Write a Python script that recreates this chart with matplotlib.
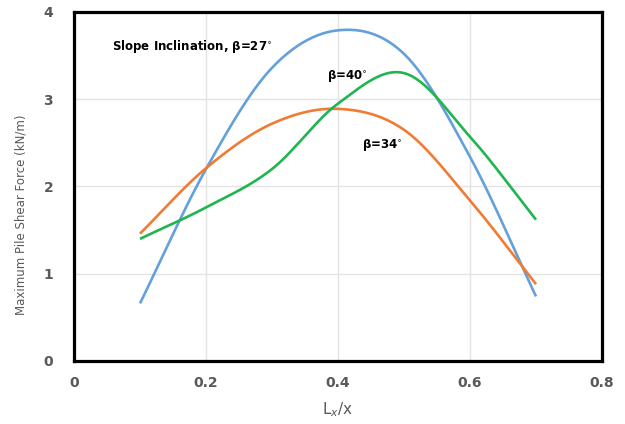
import numpy as np
import matplotlib
matplotlib.use('Agg')
import matplotlib.pyplot as plt

# pile location ratio and maximum shear force for each slope angle
lx_ratio = [0.1, 0.2, 0.3, 0.4, 0.5, 0.6, 0.7]
shear_27 = [0.66, 2.20, 3.36, 3.79, 3.52, 2.34, 0.74]
shear_34 = [1.46, 2.21, 2.72, 2.89, 2.65, 1.84, 0.88]
shear_40 = [1.40, 1.76, 2.20, 2.95, 3.30, 2.57, 1.62]


def smooth(x, y, n=40):
    # Catmull-Rom spline through the points, similar to a smoothed line in a spreadsheet
    x = np.asarray(x, float)
    y = np.asarray(y, float)
    xs, ys = [], []
    for i in range(len(x) - 1):
        x0, x1 = x[i], x[i + 1]
        y0, y1 = y[i], y[i + 1]
        m0 = (y[i + 1] - y[i - 1]) / (x[i + 1] - x[i - 1]) if i > 0 else (y1 - y0) / (x1 - x0)
        m1 = (y[i + 2] - y[i]) / (x[i + 2] - x[i]) if i + 2 < len(x) else (y1 - y0) / (x1 - x0)
        t = np.linspace(0, 1, n)
        h = x1 - x0
        h00 = 2 * t**3 - 3 * t**2 + 1
        h10 = t**3 - 2 * t**2 + t
        h01 = -2 * t**3 + 3 * t**2
        h11 = t**3 - t**2
        xs.append(x0 + t * h)
        ys.append(h00 * y0 + h10 * h * m0 + h01 * y1 + h11 * h * m1)
    return np.concatenate(xs), np.concatenate(ys)


fig = plt.figure(figsize=(6.25, 4.24), dpi=100)
ax = fig.add_axes([0.1184, 0.1486, 0.8448, 0.8231])

for vals, color in [(shear_27, '#64a0da'), (shear_34, '#f07c34'), (shear_40, '#1fb550')]:
    sx, sy = smooth(lx_ratio, vals)
    ax.plot(sx, sy, color=color, lw=1.9, solid_capstyle='butt')

ax.set_xlim(0, 0.8)
ax.set_ylim(0, 4)
ax.set_xticks([0, 0.2, 0.4, 0.6, 0.8])
ax.set_xticklabels(['0', '0.2', '0.4', '0.6', '0.8'])
ax.set_yticks([0, 1, 2, 3, 4])
ax.grid(True, color='#e3e3e3', lw=1)
ax.set_axisbelow(True)
for s in ax.spines.values():
    s.set_linewidth(2.3)
    s.set_color('black')
ax.tick_params(length=0, labelsize=10, labelcolor='#595959')
ax.tick_params(axis='x', pad=11)
ax.tick_params(axis='y', pad=15)
for lab in ax.get_xticklabels() + ax.get_yticklabels():
    lab.set_fontweight('bold')

ax.set_xlabel('L$_x$/x', fontsize=11, color='#595959')
ax.xaxis.set_label_coords(0.5, -0.112)
ax.set_ylabel('Maximum Pile Shear Force (kN/m)', fontsize=8.5, color='#595959')
ax.yaxis.set_label_coords(-0.089, 0.42)

ax.text(0.058, 3.6, 'Slope Inclination, β=27$^{\\circ}$', fontsize=8.5, fontweight='bold', va='center')
ax.text(0.384, 3.25, 'β=40$^{\\circ}$', fontsize=8.5, fontweight='bold', va='center')
ax.text(0.437, 2.46, 'β=34$^{\\circ}$', fontsize=8.5, fontweight='bold', va='center')

fig.savefig('out.png', dpi=100)
